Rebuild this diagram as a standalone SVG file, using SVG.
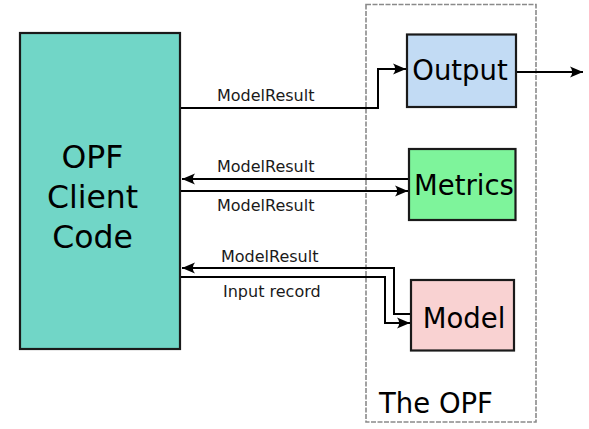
<svg xmlns="http://www.w3.org/2000/svg" width="589" height="429" viewBox="0 0 589 429">
<style>
.box{stroke:#1a1a1a;stroke-width:2.2}
.big{font-family:"DejaVu Sans",sans-serif;fill:#000}
.lbl{font-family:"DejaVu Sans",sans-serif;font-size:16px;fill:#1a1a1a}
.c{fill:none;stroke:#000;stroke-width:2}
</style>
<defs>
<marker id="ah" markerUnits="userSpaceOnUse" markerWidth="16" markerHeight="12" viewBox="-14 -6 16 12" refX="0" refY="0" orient="auto">
<path d="M0,0 L-13,-5.5 Q-8.5,0 -13,5.5 Z" fill="#000"/>
</marker>
</defs>
<rect width="589" height="429" fill="#fff"/>
<g id="opf-frame">
<rect x="366" y="4.5" width="170" height="417.5" fill="none" stroke="#8a8a8a" stroke-width="1.6" stroke-dasharray="5,1.5"/>
<text class="big" x="379" y="413" font-size="27.5">The OPF</text>
</g>
<g id="client">
<rect class="box" x="20" y="33" width="160" height="316" fill="#71d6c7"/>
<text class="big" font-size="31.5" text-anchor="middle" x="92.5" y="168">OPF</text>
<text class="big" font-size="31.5" text-anchor="middle" x="92.5" y="208">Client</text>
<text class="big" font-size="31.5" text-anchor="middle" x="92.5" y="248">Code</text>
</g>
<g id="output">
<rect class="box" x="407" y="34.5" width="109" height="72.5" fill="#c2dbf4"/>
<text class="big" font-size="27.5" text-anchor="middle" x="460" y="80">Output</text>
</g>
<g id="metrics">
<rect class="box" x="409" y="149" width="106.5" height="71" fill="#7ef49b"/>
<text class="big" font-size="27.5" text-anchor="middle" x="464" y="195">Metrics</text>
</g>
<g id="model">
<rect class="box" x="411" y="280" width="103" height="70.5" fill="#f9d2d2"/>
<text class="big" font-size="27.5" text-anchor="middle" x="464" y="328">Model</text>
</g>
<g id="connectors">
<path class="c" d="M181,108 H378 V69 H406" marker-end="url(#ah)"/>
<path class="c" d="M517,72 H583" marker-end="url(#ah)"/>
<path class="c" d="M408,179 H182" marker-end="url(#ah)"/>
<path class="c" d="M181,191 H408" marker-end="url(#ah)"/>
<path class="c" d="M410,314 H394 V268 H182" marker-end="url(#ah)"/>
<path class="c" d="M181,277 H385 V323 H410" marker-end="url(#ah)"/>
<text class="lbl" x="217" y="101">ModelResult</text>
<text class="lbl" x="217" y="172">ModelResult</text>
<text class="lbl" x="217" y="211">ModelResult</text>
<text class="lbl" x="221" y="262">ModelResult</text>
<text class="lbl" x="223" y="297">Input record</text>
</g>
</svg>
